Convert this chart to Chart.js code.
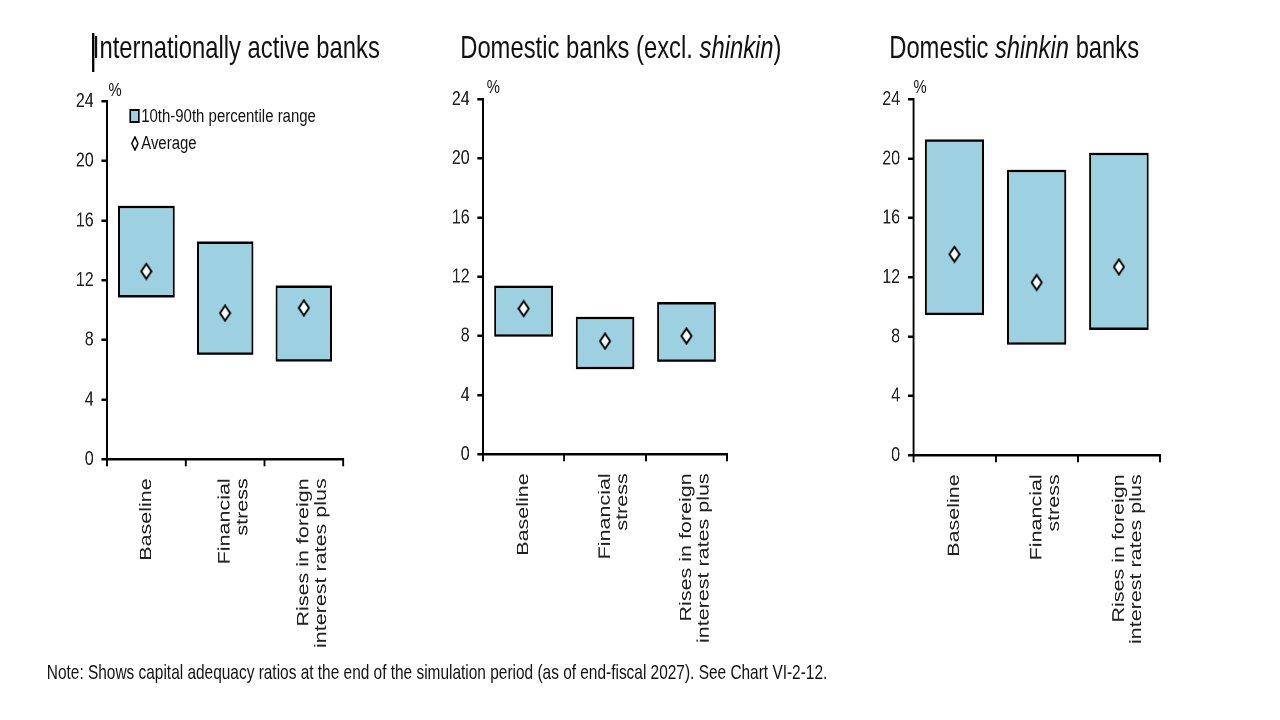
<!DOCTYPE html>
<html>
<head>
<meta charset="utf-8">
<script src="https://cdn.jsdelivr.net/npm/chart.js@4.4.1/dist/chart.umd.min.js"></script>
<style>
  html, body { margin: 0; padding: 0; background: #fff; width: 1280px; height: 720px; overflow: hidden; }
  /* the source slide is squeezed horizontally, so draw wide and squash */
  #stage { position: absolute; left: 0; top: 0; width: 1642px; height: 720px;
           transform: scaleX(0.78); transform-origin: 0 0;
           font-family: "Liberation Sans", Arial, sans-serif; color: #111; }
  .title { position: absolute; font-size: 30.5px; line-height: 34px; white-space: nowrap; }
  .pct { position: absolute; font-size: 19px; line-height: 19px; }
  .box { position: absolute; }
  .legtxt { position: absolute; font-size: 19.2px; line-height: 20px; white-space: nowrap; }
  #note { position: absolute; font-size: 19.8px; line-height: 24px; white-space: nowrap; }
</style>
</head>
<body>
<div id="stage">
  <div style="position:absolute;left:118px;top:33px;width:2.5px;height:39px;background:#000"></div>
  <div class="title" style="left:119px;top:30px">Internationally active banks</div>
  <div class="title" style="left:590px;top:30px">Domestic banks (excl. <i>shinkin</i>)</div>
  <div class="title" style="left:1140px;top:30px">Domestic <i>shinkin</i> banks</div>

  <div class="pct" style="left:139px;top:80px">%</div>
  <div class="pct" style="left:624px;top:77px">%</div>
  <div class="pct" style="left:1171px;top:77px">%</div>

  <!-- legend, panel 1 -->
  <div class="box" style="left:166px;top:109px;width:9px;height:10px;background:#9dd0e0;border:2px solid #000"></div>
  <div class="legtxt" style="left:181px;top:106px">10th-90th percentile range</div>
  <svg class="box" style="left:168px;top:136px" width="10" height="15" viewBox="0 0 10 15">
    <polygon points="5,1 9,7.5 5,14 1,7.5" fill="#fff" stroke="#000" stroke-width="1.8"/>
  </svg>
  <div class="legtxt" style="left:181px;top:133px">Average</div>

  <div id="p1" style="position:absolute"><canvas id="c1"></canvas></div>
  <div id="p2" style="position:absolute"><canvas id="c2"></canvas></div>
  <div id="p3" style="position:absolute"><canvas id="c3"></canvas></div>

  <div id="note" style="left:60px;top:660px">Note: Shows capital adequacy ratios at the end of the simulation period (as of end-fiscal 2027). See Chart VI-2-12.</div>
</div>

<script>
// ---- data ----
const categories = ['Baseline', ['Financial', 'stress'], ['Rises in foreign', 'interest rates plus']];
const yTicks = [0, 4, 8, 12, 16, 20, 24];

const intlLow  = [10.85, 7.0, 6.55];
const intlHigh = [17.0, 14.6, 11.65];
const intlAvg  = [12.6, 9.8, 10.15];

const domLow  = [7.95, 5.75, 6.25];
const domHigh = [11.4, 9.3, 10.3];
const domAvg  = [9.85, 7.65, 8.0];

const shinLow  = [9.45, 7.45, 8.45];
const shinHigh = [21.3, 19.25, 20.4];
const shinAvg  = [13.55, 11.65, 12.7];

// ---- layout (stage units, x already divided by squeeze) ----
const S = 0.78;
const BOTTOM = 660;
const PAD_L = 75, PAD_T = 15, PAD_R = 20;

function diamond() {
    const c = document.createElement('canvas');
    const w = 16, h = 18;
    c.width = w; c.height = h;
    const g = c.getContext('2d');
    g.beginPath();
    g.moveTo(w / 2, 1.5); g.lineTo(w - 1.5, h / 2); g.lineTo(w / 2, h - 1.5); g.lineTo(1.5, h / 2);
    g.closePath();
    g.fillStyle = '#fff'; g.fill();
    g.lineWidth = 2.2; g.strokeStyle = '#000'; g.stroke();
    return c;
}
const diamondImg = diamond();

function makePanel(wrapId, canvasId, plot, low, high, avg) {
    const l = plot.l / S, r = plot.r / S;
    const wrap = document.getElementById(wrapId);
    let left = l - PAD_L, top = plot.t - PAD_T;
    const width = (r + PAD_R) - left;
    let height = BOTTOM - top;
    const place = () => {
        wrap.style.left = left + 'px';
        wrap.style.top = top + 'px';
        wrap.style.width = width + 'px';
        wrap.style.height = height + 'px';
    };
    place();
    const cv = document.getElementById(canvasId);
    cv.width = width; cv.height = height;

    const xHeight = BOTTOM - plot.b;

    const chart = new Chart(cv.getContext('2d'), {
        data: {
            labels: categories,
            datasets: [{
                type: 'bar',
                data: low.map((v, i) => [v, high[i]]),
                backgroundColor: '#9dd0e0',
                borderColor: '#000',
                borderWidth: 2.5,
                borderSkipped: false,
                barPercentage: 0.72,
                categoryPercentage: 1.0,
                order: 2
            }, {
                type: 'line',
                data: avg,
                showLine: false,
                pointStyle: diamondImg,
                pointRadius: 8,
                order: 1
            }]
        },
        options: {
            responsive: false,
            maintainAspectRatio: false,
            devicePixelRatio: 2,
            animation: false,
            layout: { padding: { left: 0, top: PAD_T, right: PAD_R, bottom: 0 } },
            plugins: { legend: { display: false }, tooltip: { enabled: false } },
            scales: {
                x: {
                    offset: true,
                    grid: { offset: true, drawOnChartArea: false, drawTicks: true, tickLength: 7, color: '#000', lineWidth: 2.5 },
                    border: { color: '#000', width: 2.5 },
                    ticks: {
                        autoSkip: false, minRotation: 90, maxRotation: 90, padding: 12,
                        color: '#222',
                        font: { family: '"Liberation Sans", Arial, sans-serif', size: 21.5, lineHeight: 1.05 }
                    },
                    afterFit: s => { s.height = xHeight; }
                },
                y: {
                    min: 0, max: 24,
                    afterBuildTicks: s => { s.ticks = yTicks.map(v => ({ value: v })); },
                    grid: { drawOnChartArea: false, drawTicks: true, tickLength: 7, color: '#000', lineWidth: 2.5 },
                    border: { color: '#000', width: 2.5 },
                    ticks: {
                        padding: 10, color: '#222',
                        font: { family: '"Liberation Sans", Arial, sans-serif', size: 20.5 }
                    },
                    afterFit: s => { s.width = PAD_L; }
                }
            }
        }
    });

    // pull the canvas up so the plot top lands where the reference has it
    const dy = chart.chartArea.top - PAD_T;
    if (Math.abs(dy) > 0.5) {
        top -= dy;
        height += dy;
        place();
        chart.resize(width, height);
    }
    return chart;
}

makePanel('p1', 'c1', { l: 107, t: 101, r: 343, b: 459 }, intlLow, intlHigh, intlAvg);
makePanel('p2', 'c2', { l: 483, t: 99, r: 727, b: 454 }, domLow, domHigh, domAvg);
makePanel('p3', 'c3', { l: 913, t: 99, r: 1160, b: 455 }, shinLow, shinHigh, shinAvg);
</script>
</body>
</html>
